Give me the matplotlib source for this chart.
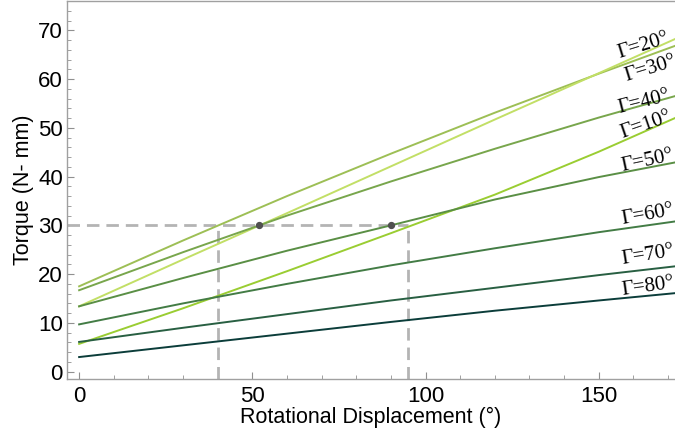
import numpy as np
import matplotlib.pyplot as plt
from matplotlib.ticker import MultipleLocator

# rotational displacement (deg) where each torque curve is sampled
disp = [0, 30, 60, 90, 120, 150, 172]

# torque (N-mm) for each gamma angle
t10 = [5.7, 13.0, 20.6, 28.4, 36.3, 45.1, 52.0]
t20 = [17.5, 26.9, 36.0, 44.7, 53.1, 61.1, 66.8]
t30 = [13.4, 23.0, 32.5, 42.1, 51.7, 61.2, 68.2]
t40 = [16.7, 24.5, 32.0, 39.0, 45.7, 52.1, 56.5]
t50 = [13.4, 19.2, 24.8, 30.0, 35.3, 39.9, 42.9]
t60 = [9.7, 14.0, 18.0, 21.8, 25.3, 28.6, 30.8]
t70 = [6.1, 9.0, 11.8, 14.6, 17.2, 19.8, 21.6]
t80 = [3.0, 5.4, 7.8, 10.2, 12.5, 14.6, 16.1]

gammas = [10, 20, 30, 40, 50, 60, 70, 80]
curves = [t10, t20, t30, t40, t50, t60, t70, t80]
colors = ['#9acd32', '#9dbf55', '#c2df66', '#78a64c',
          '#5a8f45', '#437c45', '#285f42', '#0b3d3a']

# target torque and the displacements picked off the curves
t_target = 30
disp_marks = [40, 95]
dots = [52, 90]

# label spots (left end) and angle for the gamma tags
lab_x = [156.5, 155.5, 157.5, 155.5, 156.5, 156.5, 156.5, 156.5]
lab_y = [48.8, 65.2, 60.4, 53.9, 42.0, 31.2, 23.0, 16.7]
lab_rot = [19, 17, 17, 14, 12, 10, 9, 8]

plt.rcParams['font.family'] = ['Liberation Sans', 'DejaVu Sans']

fig = plt.figure(figsize=(6.75, 4.44), dpi=100)
ax = fig.add_axes([67/675, 65/444, 608/675, 378/444])

for g, y, c in zip(gammas, curves, colors):
    ax.plot(disp, y, color=c, lw=1.4, zorder=3)

# dashed guide lines at 30 N-mm
ax.plot([-3.5, disp_marks[1]], [t_target, t_target], color='#b4b4b4',
        lw=2, dashes=(4.5, 2.5), zorder=2)
for d in disp_marks:
    ax.plot([d, d], [-1.5, t_target], color='#b4b4b4', lw=2,
            dashes=(4.5, 2.5), zorder=2)
ax.scatter(dots, [t_target] * len(dots), s=18, color='#505050', zorder=4)

for g, x, y, r in zip(gammas, lab_x, lab_y, lab_rot):
    ax.text(x, y, '\u0393=%d\u00b0' % g, rotation=r, rotation_mode='anchor',
            ha='left', va='center', fontsize=15,
            family=['Liberation Serif', 'DejaVu Serif'], clip_on=False)

ax.set_xlim(-3.5, 172)
ax.set_ylim(-1.5, 76)
ax.xaxis.set_major_locator(MultipleLocator(50))
ax.xaxis.set_minor_locator(MultipleLocator(10))
ax.yaxis.set_major_locator(MultipleLocator(10))
ax.yaxis.set_minor_locator(MultipleLocator(2))
ax.tick_params(which='both', direction='in', color='#909090',
               top=False, right=False)
ax.tick_params(which='major', length=5, labelsize=16)
ax.tick_params(axis='x', which='major', pad=5)
ax.tick_params(axis='y', which='major', pad=3)
ax.tick_params(which='minor', length=3)
for s in ax.spines.values():
    s.set_color('#a0a0a0')
    s.set_linewidth(1)
ax.spines['right'].set_visible(False)

ax.set_xlabel('Rotational Displacement (\u00b0)', fontsize=15.5, labelpad=0)
ax.set_ylabel('Torque (N- mm)', fontsize=15.5, labelpad=3)

plt.savefig('out.png', dpi=100)
